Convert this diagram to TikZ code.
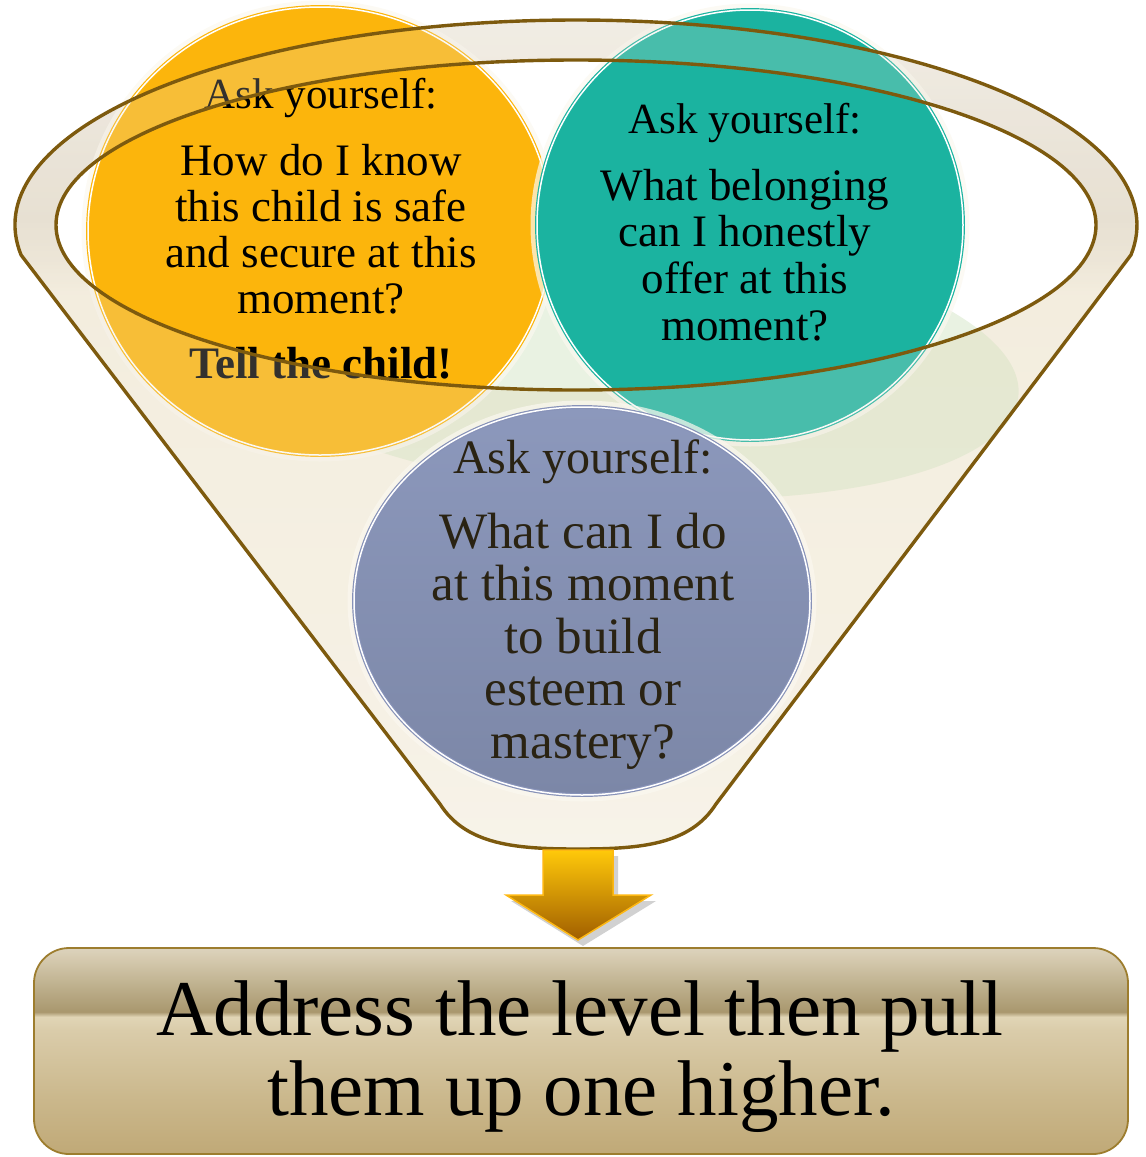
\documentclass[tikz,border=0pt]{standalone}
\usepackage{fontspec}
\setmainfont{Liberation Serif}
\usetikzlibrary{shapes.geometric}
\definecolor{brownline}{HTML}{7D5A0E}
\definecolor{orangeF}{HTML}{FCB50C}
\definecolor{tealF}{HTML}{1BB3A0}
\definecolor{blueT}{HTML}{8C98BC}
\definecolor{blueB}{HTML}{7C87A7}
\definecolor{blueL}{HTML}{8792B8}
\definecolor{bluetext}{HTML}{2A2313}
\definecolor{greenF}{HTML}{C8E0B8}
\definecolor{washc}{HTML}{E9E2D4}
\definecolor{glowc}{HTML}{FBF8F0}
\definecolor{fA}{HTML}{FBF8EF}
\definecolor{fB}{HTML}{F9F4E7}
\definecolor{fC}{HTML}{F7F1E2}
\definecolor{fD}{HTML}{EEE7D8}
\definecolor{fE}{HTML}{E7E0D2}
\definecolor{fF}{HTML}{EBE5DA}
\definecolor{fG}{HTML}{F2EEE6}
\definecolor{fH}{HTML}{F4F1EA}
\definecolor{bA}{HTML}{C0A977}
\definecolor{bB}{HTML}{CAB78B}
\definecolor{bC}{HTML}{DACCAA}
\definecolor{bD}{HTML}{E1D5B6}
\definecolor{bE}{HTML}{A9976E}
\definecolor{bF}{HTML}{BBAD89}
\definecolor{bG}{HTML}{D7CCB2}
\definecolor{bH}{HTML}{DCD3BD}
\definecolor{boxline}{HTML}{9D7D2E}
\definecolor{arrT}{HTML}{FFC90A}
\definecolor{arrM}{HTML}{F0A600}
\definecolor{arrB}{HTML}{A05E00}
\definecolor{arrL}{HTML}{FDB813}
\pgfdeclareverticalshading{funnelsh}{100bp}{color(0bp)=(fA); color(25bp)=(fA); color(40bp)=(fB); color(58bp)=(fC); color(60.2bp)=(fD); color(62.6bp)=(fE); color(67bp)=(fF); color(72.6bp)=(fG); color(75bp)=(fH); color(100bp)=(fH)}
\pgfdeclareverticalshading{boxsh}{100bp}{color(0bp)=(bA); color(25bp)=(bA); color(38bp)=(bB); color(55bp)=(bC); color(58.3bp)=(bD); color(59.5bp)=(bE); color(65bp)=(bF); color(73bp)=(bG); color(75bp)=(bH); color(100bp)=(bH)}
\tikzset{
  qcircle/.style={shape=ellipse, inner sep=0, line width=1.2, double=white, double distance=1.5,
    preaction={draw=glowc, draw opacity=0.7, line width=13}},
  qhead/.style={anchor=base, font=\fontsize{43}{47}\selectfont},
  qbody/.style={anchor=base, font=\fontsize{45}{47}\selectfont},
  bhead/.style={anchor=base, text=bluetext, font=\fontsize{48}{53}\selectfont},
  bbody/.style={anchor=base, text=bluetext, font=\fontsize{51}{53}\selectfont},
  bigtext/.style={anchor=base, font=\fontsize{79}{90}\selectfont},
  rim/.style={draw=brownline, line width=3.4}
}
\begin{document}
\begin{tikzpicture}[x=1pt,y=-1pt]
\useasboundingbox (0,0) rectangle (1146,1157);
% funnel body
\shade[shading=funnelsh] ([shift={(576,225)}]171.6:561 and 205) arc[start angle=171.6, end angle=368.4, x radius=561, y radius=205]
  -- (716,804) .. controls (690,845) and (640,849) .. (578,849) .. controls (516,849) and (466,845) .. (440,804) -- cycle;
\fill[white] (576,225) ellipse [x radius=520, y radius=165];
\fill[greenF, fill opacity=0.4, rotate around={-5:(615,360)}] (615,360) ellipse [x radius=405, y radius=135];
% orange and teal circles
\node[qcircle, draw=orangeF, fill=orangeF, minimum width=464, minimum height=448] (safe) at (320,231) {};
\node[qcircle, draw=tealF, fill=tealF, minimum width=426, minimum height=430] (belong) at (750,225) {};
\node[qhead] (safehead) at (321,108) {Ask yourself:};
\foreach \t [count=\i] in {How do I know,this child is safe,and secure at this,moment?}
  \node[qbody] (safeline\i) at (321,{175+46*(\i-1)}) {\t};
\node[qbody, font=\bfseries\fontsize{45}{47}\selectfont] (safetell) at (321,378) {Tell the child!};
\node[qhead] (belonghead) at (745,133) {Ask yourself:};
\foreach \t [count=\i] in {What belonging,can I honestly,offer at this,moment?}
  \node[qbody] (belongline\i) at (745,{200+46.7*(\i-1)}) {\t};
% wash over the rim and body
\fill[washc, fill opacity=0.22, even odd rule] ([shift={(576,225)}]171.6:561 and 205) arc[start angle=171.6, end angle=368.4, x radius=561, y radius=205]
  -- (716,804) .. controls (690,845) and (640,849) .. (578,849) .. controls (516,849) and (466,845) .. (440,804) -- cycle
  (576,225) ellipse [x radius=520, y radius=165];
% blue circle
\node[qcircle, draw=blueL, top color=blueT, bottom color=blueB, minimum width=456, minimum height=388] (mastery) at (582,601) {};
\node[bhead] (masteryhead) at (583,473) {Ask yourself:};
\foreach \t [count=\i] in {What can I do,at this moment,to build,esteem or,mastery?}
  \node[bbody] (masteryline\i) at (583,{548+52.5*(\i-1)}) {\t};
% funnel outlines
\draw[rim] ([shift={(576,225)}]171.6:561 and 205) arc[start angle=171.6, end angle=368.4, x radius=561, y radius=205]
  -- (716,804) .. controls (690,845) and (640,849) .. (578,849) .. controls (516,849) and (466,845) .. (440,804) -- cycle;
\draw[rim] (576,225) ellipse [x radius=520, y radius=165];
\coordinate (funnelbottom) at (578,849);
% arrow
\fill[black, fill opacity=0.18] (548,856) -- (618,856) -- (618,901) -- (656,901) -- (583,946) -- (511,901) -- (548,901) -- cycle;
\shade[top color=arrT, middle color=arrM, bottom color=arrB, draw=arrL, line width=1.5]
  (543,850) -- (613,850) -- (613,895) -- (651,895) -- (578,940) -- (506,895) -- (543,895) -- cycle;
% result box
\node[draw=boxline, line width=1.8, rounded corners=35, shading=boxsh, minimum width=1094, minimum height=206, inner sep=0] (result) at (581,1051) {};
\node[bigtext] (result1) at (580,1035) {Address the level then pull};
\node[bigtext] (result2) at (581,1115) {them up one higher.};
\end{tikzpicture}
\end{document}
